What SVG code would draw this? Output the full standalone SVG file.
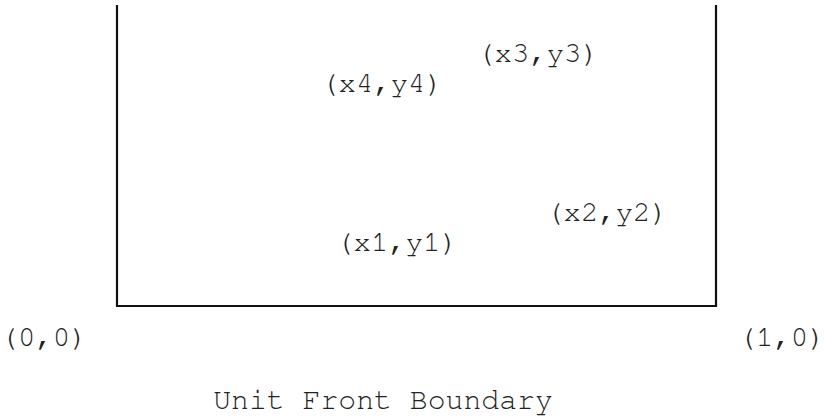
<svg xmlns="http://www.w3.org/2000/svg" width="825" height="417" viewBox="0 0 825 417">
<style>
text{font-family:"Nimbus Mono PS","Nimbus Mono L","FreeMono","Courier","Liberation Mono",monospace;font-size:29px;fill:#222;text-anchor:middle}
.edge{fill:none;stroke:#111;stroke-width:2.2;stroke-linecap:square}
</style>
<rect width="825" height="417" fill="#fff"/>
<g id="boundary">
<path class="edge" d="M117,6 V306 H716 V6"/>
</g>
<g id="p3"><text x="538" y="62">(x3,y3)</text></g>
<g id="p4"><text x="382" y="92">(x4,y4)</text></g>
<g id="p2"><text x="607" y="221">(x2,y2)</text></g>
<g id="p1"><text x="397" y="251">(x1,y1)</text></g>
<g id="origin"><text x="44" y="346">(0,0)</text></g>
<g id="unitx"><text x="782" y="346">(1,0)</text></g>
<g id="caption"><text x="383" y="409" style="font-size:29.8px">Unit Front Boundary</text></g>
</svg>
